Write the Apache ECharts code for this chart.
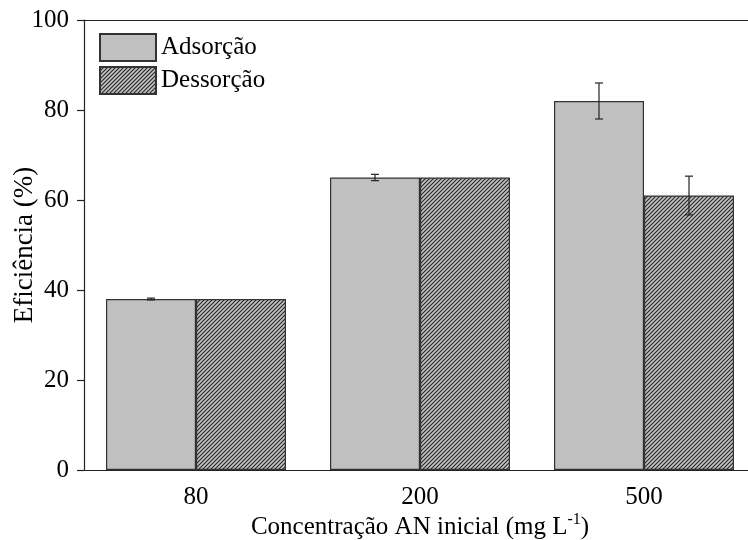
<!DOCTYPE html>
<html>
<head>
<meta charset="utf-8">
<script src="https://cdn.jsdelivr.net/npm/echarts@6/dist/echarts.min.js"></script>
<style>
  html, body { margin: 0; padding: 0; background: #fff; }
  #chart { width: 748px; height: 540px; }
</style>
</head>
<body>
<div id="chart"></div>
<script>
// Initial AN concentration (mg L-1)
const categories = ['80', '200', '500'];
const seriesNames = ['Adsorção', 'Dessorção'];
// Efficiency (%) and standard deviations
const adsorcao = [38, 65, 82];
const adsorcaoErr = [0.2, 0.7, 4.0];
const dessorcao = [38, 65, 61];
const dessorcaoErr = [0, 0, 4.3];
const yTicks = { min: 0, max: 100, interval: 20 };

const FONT = '"Liberation Serif", "DejaVu Serif", serif';
const BAR_W = 90;

// diagonal hatch tile for the desorption bars
function hatchPattern() {
  const s = 4;
  const c = document.createElement('canvas');
  c.width = s; c.height = s;
  const g = c.getContext('2d');
  g.fillStyle = '#c4c4c4';
  g.fillRect(0, 0, s, s);
  g.strokeStyle = '#2a2a2a';
  g.lineWidth = 1.2;
  g.beginPath();
  g.moveTo(0, s); g.lineTo(s, 0);
  g.moveTo(-1, 1); g.lineTo(1, -1);
  g.moveTo(s - 1, s + 1); g.lineTo(s + 1, s - 1);
  g.stroke();
  return { image: c, repeat: 'repeat' };
}

function errorData(values, errs) {
  return values.map((v, i) => [i, v - errs[i], v + errs[i]]);
}

function errorSeries(values, errs, side) {
  return {
    type: 'custom',
    xAxisIndex: 0,
    yAxisIndex: 0,
    z: 5,
    silent: true,
    data: errorData(values, errs),
    renderItem: function (params, api) {
      const i = api.value(0);
      const lo = api.coord([i, api.value(1)]);
      const hi = api.coord([i, api.value(2)]);
      const x = lo[0] + side * BAR_W / 2;
      const cap = 4;
      if (Math.abs(hi[1] - lo[1]) < 0.5) return null;
      const st = { stroke: '#222', lineWidth: 1.2, fill: null };
      return {
        type: 'group',
        children: [
          { type: 'line', shape: { x1: x, y1: lo[1], x2: x, y2: hi[1] }, style: st },
          { type: 'line', shape: { x1: x - cap, y1: lo[1], x2: x + cap, y2: lo[1] }, style: st },
          { type: 'line', shape: { x1: x - cap, y1: hi[1], x2: x + cap, y2: hi[1] }, style: st }
        ]
      };
    }
  };
}

const chart = echarts.init(document.getElementById('chart'), null, { renderer: 'canvas' });

chart.setOption({
  animation: false,
  backgroundColor: '#fff',
  textStyle: { fontFamily: FONT, color: '#000' },
  // plot area runs a little past the right edge of the canvas
  grid: { left: 84, top: 20, width: 672, height: 450, containLabel: false, outerBoundsMode: 'none' },
  legend: {
    data: seriesNames,
    orient: 'vertical',
    left: 99,
    top: 33,
    padding: 0,
    icon: 'rect',
    itemWidth: 56,
    itemHeight: 27,
    itemGap: 4,
    textStyle: { fontFamily: FONT, fontSize: 25, color: '#000' },
    selectedMode: false
  },
  xAxis: [
    {
      type: 'category',
      position: 'bottom',
      data: categories,
      axisLine: { lineStyle: { color: '#222', width: 1.2 } },
      axisTick: { alignWithLabel: true, length: 8, lineStyle: { color: '#222', width: 1.2 } },
      axisLabel: { fontFamily: FONT, fontSize: 25, color: '#000', margin: 15 },
      splitLine: { show: false },
      name: '{n|Concentração AN inicial (mg L}{s|-1}{n|)}',
      nameLocation: 'middle',
      nameGap: 42,
      nameMoveOverlap: false,
      nameTextStyle: {
        fontFamily: FONT,
        rich: {
          n: { fontFamily: FONT, fontSize: 25, color: '#000', lineHeight: 30 },
          s: { fontFamily: FONT, fontSize: 16, color: '#000', verticalAlign: 'top', lineHeight: 30, padding: [0, 0, 12, 0] }
        }
      }
    },
    {
      type: 'category',
      position: 'top',
      data: categories,
      axisLine: { lineStyle: { color: '#222', width: 1.2 } },
      axisTick: { show: false },
      axisLabel: { show: false }
    },
    {
      type: 'category',
      position: 'bottom',
      data: categories,
      axisLine: { show: false },
      axisTick: { inside: true, length: 3, lineStyle: { color: '#222', width: 1 } },
      axisLabel: { show: false }
    }
  ],
  yAxis: {
    type: 'value',
    min: yTicks.min,
    max: yTicks.max,
    interval: yTicks.interval,
    axisLine: { show: true, lineStyle: { color: '#222', width: 1.2 } },
    axisTick: { show: true, length: 7, lineStyle: { color: '#222', width: 1.2 } },
    axisLabel: { fontFamily: FONT, fontSize: 25, color: '#000', margin: 15 },
    splitLine: { show: false },
    name: 'Eficiência (%)',
    nameLocation: 'middle',
    nameRotate: 90,
    nameGap: 46,
    nameMoveOverlap: false,
    nameTextStyle: { fontFamily: FONT, fontSize: 27, color: '#000' }
  },
  series: [
    {
      name: seriesNames[0],
      type: 'bar',
      data: adsorcao,
      barWidth: BAR_W,
      barGap: '0%',
      itemStyle: { color: '#c0c0c0', borderColor: '#333', borderWidth: 1.2 }
    },
    {
      name: seriesNames[1],
      type: 'bar',
      data: dessorcao,
      barWidth: BAR_W,
      barGap: '0%',
      itemStyle: { color: hatchPattern(), borderColor: '#333', borderWidth: 1.2 }
    },
    errorSeries(adsorcao, adsorcaoErr, -1),
    errorSeries(dessorcao, dessorcaoErr, 1)
  ]
});
</script>
</body>
</html>
